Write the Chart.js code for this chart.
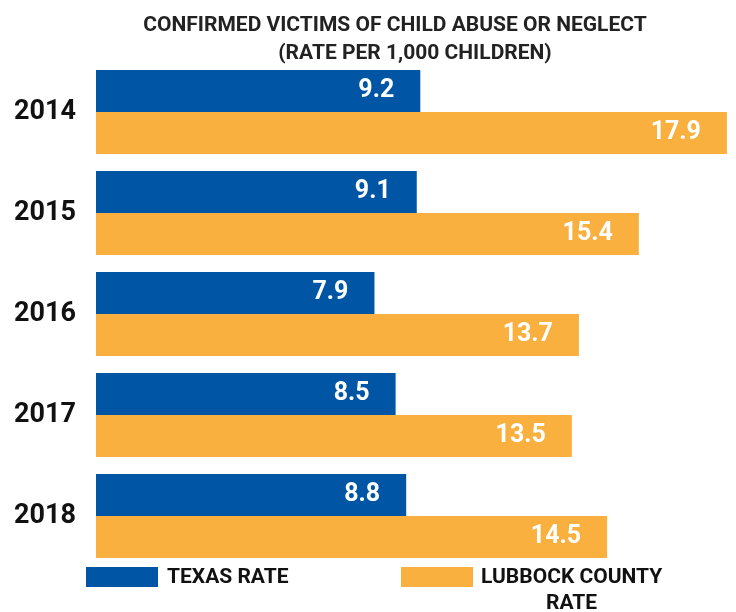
<!DOCTYPE html>
<html>
<head>
<meta charset="utf-8">
<script src="https://cdn.jsdelivr.net/npm/chart.js@4/dist/chart.umd.min.js"></script>
<style>
  html, body { margin: 0; padding: 0; background: #fff; }
  #wrap { position: relative; width: 736px; height: 612px; overflow: hidden; font-family: Roboto, "Noto Sans", sans-serif; }
  canvas { position: absolute; left: 0; top: 0; }
  .t { position: absolute; font-weight: 700; font-size: 21px; color: #222; white-space: nowrap; line-height: 1; transform: translateX(-50%); }
  .sw { position: absolute; width: 72px; height: 20px; }
  .lg { position: absolute; font-weight: 700; font-size: 21px; color: #111; line-height: 26px; text-align: center; white-space: nowrap; }
</style>
</head>
<body>
<div id="wrap">
  <canvas id="c" width="736" height="612"></canvas>
  <div class="t" style="left:395px; top:14px;">CONFIRMED VICTIMS OF CHILD ABUSE OR NEGLECT</div>
  <div class="t" style="left:415px; top:42px;">(RATE PER 1,000 CHILDREN)</div>
  <div class="sw" style="left:86px; top:567px; background:#0055A5;"></div>
  <div class="lg" style="left:167px; top:563px;">TEXAS RATE</div>
  <div class="sw" style="left:401px; top:567px; background:#F9B03E;"></div>
  <div class="lg" style="left:481px; top:563px;">LUBBOCK COUNTY<br>RATE</div>
</div>
<script>
const years = ['2014', '2015', '2016', '2017', '2018'];
const texasRate = [9.2, 9.1, 7.9, 8.5, 8.8];
const lubbockRate = [17.9, 15.4, 13.7, 13.5, 14.5];
const seriesNames = ['TEXAS RATE', 'LUBBOCK COUNTY RATE'];

const valueLabels = {
  id: 'valueLabels',
  afterDatasetsDraw(chart) {
    const ctx = chart.ctx;
    ctx.save();
    ctx.fillStyle = '#ffffff';
    ctx.font = 'bold 25px Roboto';
    ctx.textAlign = 'right';
    ctx.textBaseline = 'middle';
    chart.data.datasets.forEach((ds, i) => {
      const meta = chart.getDatasetMeta(i);
      meta.data.forEach((bar, j) => {
        ctx.fillText(ds.data[j].toFixed(1), bar.x - 26, bar.y);
      });
    });
    ctx.restore();
  }
};

function make() {
  new Chart(document.getElementById('c'), {
    type: 'bar',
    data: {
      labels: years,
      datasets: [
        { label: seriesNames[0], data: texasRate, backgroundColor: '#0055A5' },
        { label: seriesNames[1], data: lubbockRate, backgroundColor: '#F9B03E' }
      ]
    },
    options: {
      indexAxis: 'y',
      responsive: false,
      animation: false,
      categoryPercentage: 0.83,
      barPercentage: 1.0,
      layout: { padding: { left: 0, right: 2, top: 61.5, bottom: 45.5 } },
      plugins: { legend: { display: false }, tooltip: { enabled: false }, title: { display: false } },
      scales: {
        x: { display: false, min: 0, max: 18.1 },
        y: {
          grid: { display: false, drawTicks: false },
          border: { display: false },
          afterFit(axis) { axis.width = 96; },
          ticks: { color: '#111', padding: 20, font: { family: 'Roboto', weight: 'bold', size: 27 } }
        }
      }
    },
    plugins: [valueLabels]
  });
}
document.fonts.load('bold 27px Roboto').then(make, make);
</script>
</body>
</html>
